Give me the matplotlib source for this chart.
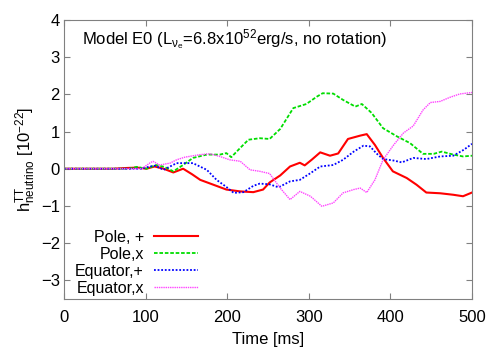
import matplotlib
matplotlib.use('Agg')
import matplotlib.pyplot as plt

plt.rcParams['font.family'] = ['Liberation Sans', 'DejaVu Sans']
plt.rcParams['mathtext.fontset'] = 'custom'
plt.rcParams['mathtext.rm'] = 'Liberation Sans'
plt.rcParams['mathtext.it'] = 'Liberation Sans'

# Pole, +
t_pp = [0, 60, 77, 90, 101, 111, 122, 134, 146, 157, 167, 183, 199, 216, 232, 244, 252, 265,
        277, 289, 295, 304, 314, 326, 336, 348, 363, 371, 381, 391, 403, 420, 432, 444, 461, 477, 489, 500]
h_pp = [0, 0, 0.02, 0.03, 0.0, 0.06, 0.0, -0.1, 0.0, -0.15, -0.3, -0.43, -0.56, -0.61, -0.63, -0.56, -0.37, -0.18,
        0.06, 0.16, 0.09, 0.25, 0.44, 0.35, 0.41, 0.8, 0.89, 0.93, 0.64, 0.29, -0.07, -0.25, -0.43, -0.64, -0.66, -0.7, -0.74, -0.64]

# Pole, x
t_px = [0, 80, 89, 101, 113, 123, 134, 146, 158, 175, 191, 199, 205, 216, 226, 240, 252, 265,
        281, 297, 310, 317, 330, 342, 357, 365, 377, 391, 408, 424, 440, 453, 463, 477, 489, 500]
h_px = [0, 0, 0.05, 0.0, 0.1, 0.05, -0.07, 0.1, 0.29, 0.38, 0.38, 0.42, 0.31, 0.56, 0.78, 0.82, 0.8, 1.07,
        1.63, 1.74, 1.94, 2.03, 2.02, 1.85, 1.67, 1.74, 1.5, 1.09, 0.87, 0.69, 0.4, 0.4, 0.46, 0.38, 0.33, 0.35]

# Equator, +
t_ep = [0, 95, 105, 112, 122, 138, 158, 175, 187, 199, 208, 220, 232, 240, 252, 263,
        277, 289, 302, 314, 330, 342, 355, 367, 375, 383, 391, 404, 414, 428, 444, 461, 477, 490, 500]
h_ep = [0, 0, 0.06, 0.08, -0.03, 0.15, 0.15, -0.03, -0.3, -0.49, -0.65, -0.63, -0.46, -0.4, -0.42, -0.5,
        -0.34, -0.3, -0.12, 0.06, 0.1, 0.24, 0.46, 0.62, 0.6, 0.41, 0.26, 0.22, 0.17, 0.29, 0.26, 0.33, 0.35, 0.51, 0.67]

# Equator, x
t_ex = [0, 95, 105, 109, 117, 130, 138, 148, 167, 179, 191, 203, 216, 228, 240, 252, 265,
        277, 289, 302, 316, 330, 342, 355, 363, 371, 381, 391, 404, 416, 428, 440, 449, 461, 473, 485, 500]
h_ex = [0, 0, 0.15, 0.2, 0.1, 0.15, 0.24, 0.31, 0.38, 0.4, 0.33, 0.24, 0.2, -0.03, -0.07, -0.13, -0.52,
        -0.83, -0.61, -0.74, -1.01, -0.92, -0.65, -0.56, -0.52, -0.64, -0.3, 0.24, 0.64, 0.96, 1.15, 1.58, 1.78, 1.81, 1.92, 2.01, 2.05]

fig = plt.figure(figsize=(5, 3.5), dpi=100)
ax = fig.add_axes([0.128, 0.146, 0.816, 0.797])

ax.plot(t_pp, h_pp, color='#ff0000', lw=1.5, label='Pole, +')
ax.plot(t_px, h_px, color='#00dd00', lw=1.3, ls=(0, (2, 1)), label='Pole,x')
ax.plot(t_ep, h_ep, color='#0000ff', lw=1.3, ls=(0, (1, 1)), label='Equator,+')
ax.plot(t_ex, h_ex, color='#ff44ff', lw=1.0, ls=(0, (1, 0.6)), label='Equator,x')

ax.set_xlim(0, 500)
ax.set_ylim(-3.5, 4)
ax.set_xticks([0, 100, 200, 300, 400, 500])
ax.set_yticks([-3, -2, -1, 0, 1, 2, 3, 4])
ax.tick_params(direction='in', top=True, right=True, length=4, color='#808080', labelsize=12)
ax.tick_params(axis='x', pad=8)
ax.tick_params(axis='y', pad=3)
for s in ax.spines.values():
    s.set_color('#808080')

ax.set_xlabel('Time [ms]', fontsize=12, labelpad=5)
ax.set_ylabel(r'h$^{\mathrm{TT}}_{\mathrm{neutrino}}$ [10$^{-22}$]', fontsize=12, labelpad=2)

ax.text(22, 3.46, r'Model E0 (L$_{\nu_e}$=6.8x10$^{52}$erg/s, no rotation)', fontsize=12, va='center')

leg = ax.legend(loc='lower left', bbox_to_anchor=(0.027, 0.012), frameon=False, markerfirst=False,
                fontsize=11.5, handlelength=2.75, labelspacing=0.12, borderpad=0.0, borderaxespad=0.0,
                handletextpad=0.65)
# right-align the labels like gnuplot does
for col in leg._legend_handle_box.get_children():
    col.align = 'right'

fig.savefig('out.png', dpi=100)
